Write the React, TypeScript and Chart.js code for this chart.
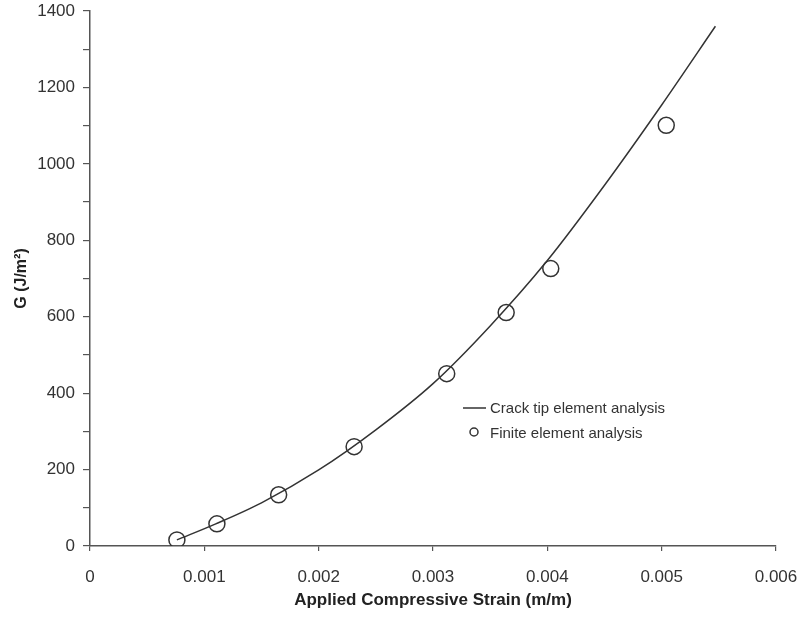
import React, { useEffect, useRef } from 'react';
import { Chart, registerables } from 'chart.js';

Chart.register(...registerables);

// Crack tip element analysis (solid curve)
const curveStrain = [0.00076, 0.0011, 0.0015, 0.002, 0.0025, 0.003, 0.0035, 0.004, 0.0045, 0.005, 0.00547];
const curveG = [16, 58, 113, 199, 304, 425, 576, 747, 944, 1154, 1360];

// Finite element analysis (open circles)
const feStrain = [0.00076, 0.00111, 0.00165, 0.00231, 0.00312, 0.00364, 0.00403, 0.00504];
const feG = [16, 58, 134, 260, 451, 611, 726, 1101];

const legendLabels = ['Crack tip element analysis', 'Finite element analysis'];
const xTitle = 'Applied Compressive Strain (m/m)';
const yTitle = 'G (J/m\u00B2)';

const FONT = '"Liberation Sans", Arial, Helvetica, sans-serif';
const INK = '#333333';

const legendPlugin = {
  id: 'innerLegend',
  afterDraw(chart: any) {
    const ctx = chart.ctx;
    ctx.save();
    ctx.strokeStyle = INK;
    ctx.fillStyle = '#333';
    ctx.lineWidth = 1.5;
    ctx.font = `15px ${FONT}`;
    ctx.textBaseline = 'middle';
    ctx.textAlign = 'left';
    ctx.beginPath();
    ctx.moveTo(463, 408);
    ctx.lineTo(486, 408);
    ctx.stroke();
    ctx.fillText(legendLabels[0], 490, 409);
    ctx.beginPath();
    ctx.arc(474, 432, 4, 0, Math.PI * 2);
    ctx.stroke();
    ctx.fillText(legendLabels[1], 490, 434);
    ctx.restore();
  },
};

export default function App() {
  const ref = useRef<HTMLCanvasElement>(null);

  useEffect(() => {
    if (!ref.current) return;
    const chart = new Chart(ref.current, {
      type: 'scatter',
      data: {
        datasets: [
          {
            type: 'line',
            label: legendLabels[0],
            data: curveStrain.map((x, i) => ({ x, y: curveG[i] })),
            borderColor: INK,
            borderWidth: 1.5,
            pointRadius: 0,
            fill: false,
            cubicInterpolationMode: 'monotone',
          } as any,
          {
            type: 'scatter',
            label: legendLabels[1],
            data: feStrain.map((x, i) => ({ x, y: feG[i] })),
            borderColor: INK,
            backgroundColor: 'rgba(0,0,0,0)',
            borderWidth: 1.5,
            pointRadius: 8,
            pointStyle: 'circle',
          },
        ],
      },
      plugins: [legendPlugin],
      options: {
        responsive: false,
        animation: false,
        layout: { padding: { left: 0, right: 24, top: 11, bottom: 0 } },
        plugins: {
          legend: { display: false },
          tooltip: { enabled: false },
        },
        scales: {
          x: {
            type: 'linear',
            min: 0,
            max: 0.006,
            afterFit: (s: any) => {
              s.height = 76;
              s.paddingLeft = 0;
              s.paddingRight = 0;
            },
            ticks: {
              stepSize: 0.001,
              padding: 16,
              color: '#333',
              font: { family: FONT, size: 17 },
              callback: (v: any) => (Number(v) === 0 ? '0' : Number(v).toFixed(3)),
              maxRotation: 0,
            },
            grid: { display: true, drawOnChartArea: false, drawTicks: true, tickLength: 5, color: '#555', lineWidth: 1.2 },
            border: { display: true, color: '#555', width: 1.5 },
            title: {
              display: true,
              text: xTitle,
              color: '#222',
              font: { family: FONT, size: 17, weight: 'bold' },
              padding: { top: 0, bottom: 11 },
            },
          },
          y: {
            type: 'linear',
            min: 0,
            max: 1400,
            afterFit: (s: any) => {
              s.width = 90;
              s.paddingTop = 0;
              s.paddingBottom = 0;
            },
            ticks: {
              stepSize: 100,
              padding: 8,
              color: '#333',
              font: { family: FONT, size: 17 },
              callback: (v: any) => (Number(v) % 200 === 0 ? String(v) : ''),
              autoSkip: false,
            },
            grid: { display: true, drawOnChartArea: false, drawTicks: true, tickLength: 7, color: '#555', lineWidth: 1.2 },
            border: { display: true, color: '#555', width: 1.5 },
            title: {
              display: true,
              text: yTitle,
              color: '#222',
              font: { family: FONT, size: 16, weight: 'bold' },
              padding: { top: 12, bottom: 0 },
            },
          },
        },
      },
    } as any);
    return () => chart.destroy();
  }, []);

  return (
    <div style={{ position: 'absolute', left: 0, top: 0, width: 800, height: 622, background: '#fff' }}>
      <canvas ref={ref} width={800} height={622} style={{ display: 'block' }} />
    </div>
  );
}
